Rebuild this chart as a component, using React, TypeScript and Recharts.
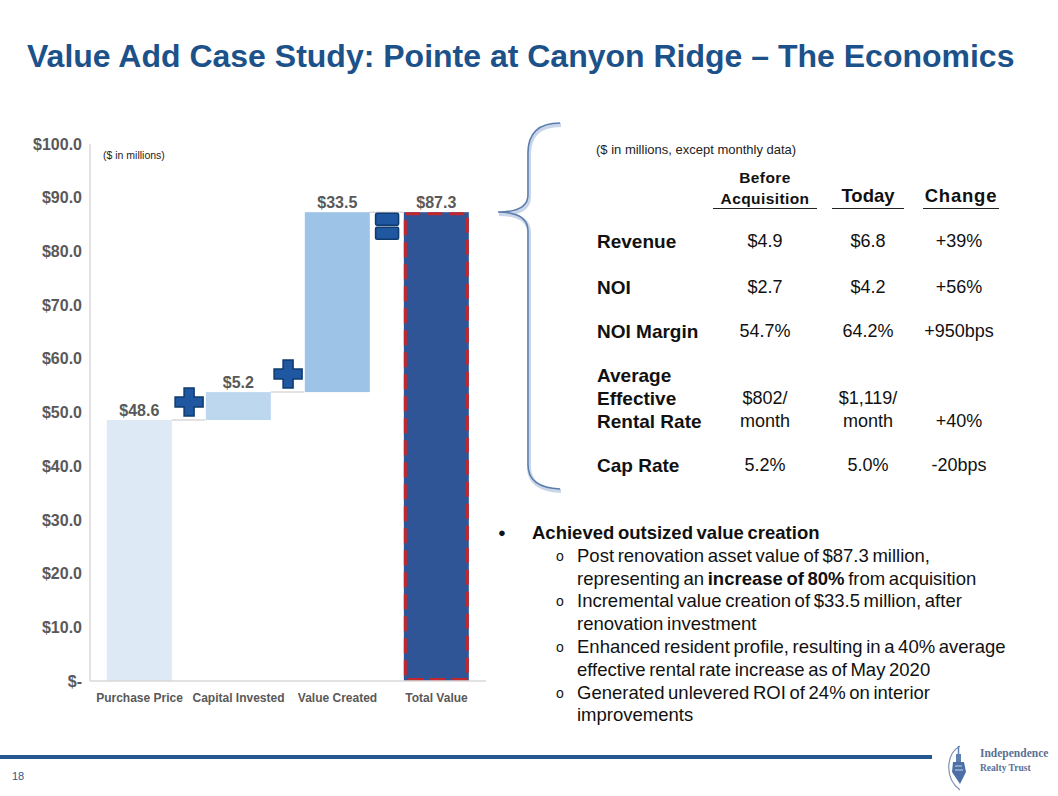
import React from "react";
import { BarChart, Bar, XAxis, YAxis, LabelList } from "recharts";

const categories = ["Purchase Price", "Capital Invested", "Value Created", "Total Value"];
const amounts = [48.6, 5.2, 33.5, 87.3];
const isTotal = [false, false, false, true];
const yTicks = [0, 10, 20, 30, 40, 50, 60, 70, 80, 90, 100];

const barColors = ["#dde9f5", "#bdd7ee", "#9dc3e6", "#2f5597"];
const joinIcons = [null, "plus", "plus", "equals"];

const metricLabels = [["Revenue"], ["NOI"], ["NOI Margin"], ["Average", "Effective", "Rental Rate"], ["Cap Rate"]];
const beforeValues = [["$4.9"], ["$2.7"], ["54.7%"], ["$802/", "month"], ["5.2%"]];
const todayValues = [["$6.8"], ["$4.2"], ["64.2%"], ["$1,119/", "month"], ["5.0%"]];
const changeValues = [["+39%"], ["+56%"], ["+950bps"], ["+40%"], ["-20bps"]];

const FONT = '"Liberation Sans", Arial, sans-serif';
const TITLE_BLUE = "#1c5289";
const GRAY = "#595959";
const CAT_GAP = 0.17;

// running totals for the waterfall
let running = 0;
const rows = categories.map((name, i) => {
  const base = isTotal[i] ? 0 : running;
  if (!isTotal[i]) running += amounts[i];
  return { name, base, amount: amounts[i] };
});

const fmtMoney = (v: number) => (v === 0 ? "$-" : `$${Number(v).toFixed(1)}`);

const PlusIcon = ({ cx, cy }: { cx: number; cy: number }) => {
  const a = 14; // half arm length
  const t = 5; // half thickness
  const d = `M${cx - t},${cy - a} H${cx + t} V${cy - t} H${cx + a} V${cy + t} H${cx + t} V${cy + a} H${cx - t} V${cy + t} H${cx - a} V${cy - t} H${cx - t} Z`;
  return <path d={d} fill="#1f57a0" stroke="#0e3a6e" strokeWidth={1.5} />;
};

const WaterfallBar = (props: any) => {
  const { x, y, width, height, payload } = props;
  const index = categories.indexOf(payload.name);
  const gap = (width * (2 * CAT_GAP)) / (1 - 2 * CAT_GAP);
  const bottom = y + height;
  const icon = joinIcons[index];
  const last = index === categories.length - 1;
  return (
    <g>
      <rect x={x} y={y} width={width} height={height} fill={barColors[index]} />
      {isTotal[index] && (
        <rect
          x={x + 1.5}
          y={y + 1.5}
          width={width - 3}
          height={height - 3}
          fill="none"
          stroke="#c0282d"
          strokeWidth={3}
          strokeDasharray="15 7"
        />
      )}
      {!last && (
        <line x1={x + width} x2={x + width + gap} y1={y} y2={y} stroke="#d9d9d9" strokeWidth={1.5} />
      )}
      {icon === "plus" && <PlusIcon cx={x - gap / 2} cy={bottom - 18} />}
      {icon === "equals" && (
        <g fill="#1f57a0" stroke="#0e3a6e" strokeWidth={1.5}>
          <rect x={x - gap / 2 - 11.5} y={y + 1} width={23} height={12} rx={1.5} />
          <rect x={x - gap / 2 - 11.5} y={y + 15} width={23} height={12} rx={1.5} />
        </g>
      )}
    </g>
  );
};

const Brace = () => (
  <svg width={80} height={380} style={{ position: "absolute", left: 490, top: 115 }}>
    <path
      d="M70,8 C48,8 38,18 38,38 L38,80 C38,92 28,97 8,97 C28,97 38,103 38,116 L38,350 C38,364 48,373 70,374"
      fill="none"
      stroke="#c9d5e8"
      strokeWidth={4}
      transform="translate(1,2)"
    />
    <path
      d="M70,8 C48,8 38,18 38,38 L38,80 C38,92 28,97 8,97 C28,97 38,103 38,116 L38,350 C38,364 48,373 70,374"
      fill="none"
      stroke="#5b7cad"
      strokeWidth={1.5}
    />
  </svg>
);

const rowTops = [230, 276, 320, 364, 454];
const colCenters = [765, 868, 959];

const Cell = ({ lines, left, top, count, bold, align }: any) => (
  <div
    style={{
      position: "absolute",
      left,
      top,
      width: align === "left" ? 140 : 120,
      height: count * 23,
      display: "flex",
      flexDirection: "column",
      justifyContent: "flex-end",
      textAlign: align === "left" ? "left" : "center",
      fontWeight: bold ? 700 : 400,
      fontSize: bold ? 19 : 18,
      lineHeight: "23px",
      color: "#111",
      whiteSpace: "nowrap",
    }}
  >
    {lines.map((l: string, i: number) => (
      <div key={i}>{l}</div>
    ))}
  </div>
);

const MetricsTable = () => (
  <>
    <div style={{ position: "absolute", left: 596, top: 142, fontSize: 13, color: "#222" }}>
      ($ in millions, except monthly data)
    </div>
    <div style={{ position: "absolute", left: 713, width: 104, top: 167, textAlign: "center", fontWeight: 700, fontSize: 15.5, lineHeight: "21px", letterSpacing: 0.4, color: "#111" }}>
      Before
      <br />
      Acquisition
    </div>
    <div style={{ position: "absolute", left: 713, width: 104, top: 208, borderTop: "1.5px solid #222" }} />
    <div style={{ position: "absolute", left: 832, width: 72, top: 185, textAlign: "center", fontWeight: 700, fontSize: 18.5, color: "#111" }}>
      Today
    </div>
    <div style={{ position: "absolute", left: 832, width: 72, top: 208, borderTop: "1.5px solid #222" }} />
    <div style={{ position: "absolute", left: 923, width: 76, top: 185, textAlign: "center", fontWeight: 700, fontSize: 18.5, letterSpacing: 0.8, color: "#111" }}>
      Change
    </div>
    <div style={{ position: "absolute", left: 923, width: 76, top: 208, borderTop: "1.5px solid #222" }} />
    {metricLabels.map((lbl, i) => {
      const count = lbl.length;
      return (
        <React.Fragment key={i}>
          <Cell lines={lbl} left={597} top={rowTops[i]} count={count} bold align="left" />
          <Cell lines={beforeValues[i]} left={colCenters[0] - 60} top={rowTops[i]} count={count} />
          <Cell lines={todayValues[i]} left={colCenters[1] - 60} top={rowTops[i]} count={count} />
          <Cell lines={changeValues[i]} left={colCenters[2] - 60} top={rowTops[i]} count={count} />
        </React.Fragment>
      );
    })}
  </>
);

const subBullets = [
  [<>Post renovation asset value of $87.3 million,</>, <>representing an <b>increase of 80%</b> from acquisition</>],
  [<>Incremental value creation of $33.5 million, after</>, <>renovation investment</>],
  [<>Enhanced resident profile, resulting in a 40% average</>, <>effective rental rate increase as of May 2020</>],
  [<>Generated unlevered ROI of 24% on interior</>, <>improvements</>],
];

const Bullets = () => (
  <div style={{ position: "absolute", left: 498, top: 522, fontSize: 18.5, color: "#111", lineHeight: "22.8px", whiteSpace: "nowrap", wordSpacing: -1.5 }}>
    <div style={{ display: "flex" }}>
      <span style={{ width: 34, fontSize: 13 }}>●</span>
      <b>Achieved outsized value creation</b>
    </div>
    {subBullets.map((lines, i) => (
      <div key={i} style={{ display: "flex", marginLeft: 58 }}>
        <span style={{ width: 21, fontSize: 14 }}>o</span>
        <div>
          {lines.map((l, j) => (
            <div key={j}>{l}</div>
          ))}
        </div>
      </div>
    ))}
  </div>
);

const Logo = () => (
  <svg width={120} height={52} style={{ position: "absolute", left: 938, top: 742 }}>
    <path d="M22,4 C8,12 6,36 22,48" fill="none" stroke="#7d93b5" strokeWidth={1.2} />
    <rect x={18} y={12} width={5} height={8} fill="#5e7fb0" />
    <path d="M20.5,4 L20.5,12" stroke="#5e7fb0" strokeWidth={1.5} />
    <path d="M15,20 H26 L28,30 L22,42 L14,30 Z" fill="#4b6fa6" />
    <path d="M17,24 H24 M17,28 H25" stroke="#c9d6ea" strokeWidth={1} />
    <text x={42} y={15} fontFamily='"Liberation Serif", "DejaVu Serif", serif' fontWeight={700} fontSize={11.5} fill="#5b6f92">
      Independence
    </text>
    <text x={42} y={29} fontFamily='"Liberation Serif", "DejaVu Serif", serif' fontWeight={700} fontSize={9.5} fill="#5b6f92">
      Realty Trust
    </text>
  </svg>
);

export default function App() {
  return (
    <div style={{ position: "absolute", left: 0, top: 0, width: 1058, height: 796, background: "#fff", fontFamily: FONT, overflow: "hidden" }}>
      <div style={{ position: "absolute", left: 27, top: 38, fontSize: 32, fontWeight: 700, color: TITLE_BLUE, whiteSpace: "nowrap" }}>
        Value Add Case Study: Pointe at Canyon Ridge – The Economics
      </div>

      <div style={{ position: "absolute", left: 0, top: 120 }}>
        <BarChart
          width={500}
          height={600}
          data={rows}
          margin={{ top: 24, right: 14, bottom: 0, left: 0 }}
          barCategoryGap={`${CAT_GAP * 100}%`}
        >
          <XAxis
            dataKey="name"
            axisLine={{ stroke: "#d9d9d9", strokeWidth: 1.5 }}
            tickLine={false}
            tickSize={0}
            tickMargin={12}
            height={39}
            interval={0}
            tick={{ fontSize: 12, fontWeight: 700, fill: GRAY, fontFamily: FONT }}
          />
          <YAxis
            domain={[0, 100]}
            ticks={yTicks}
            tickFormatter={fmtMoney}
            width={90}
            axisLine={{ stroke: "#d9d9d9", strokeWidth: 1.5 }}
            tickLine={false}
            tickSize={0}
            tickMargin={8}
            tick={{ fontSize: 16, fontWeight: 700, fill: GRAY, fontFamily: FONT }}
          />
          <Bar dataKey="base" stackId="w" fill="transparent" isAnimationActive={false} />
          <Bar dataKey="amount" stackId="w" shape={<WaterfallBar />} isAnimationActive={false}>
            <LabelList
              dataKey="amount"
              position="top"
              offset={4}
              formatter={(v: any) => fmtMoney(Number(v))}
              fill={GRAY}
              fontSize={16}
              fontWeight={700}
              fontFamily={FONT}
            />
          </Bar>
        </BarChart>
        <div style={{ position: "absolute", left: 103, top: 29, fontSize: 10.5, color: "#222" }}>($ in millions)</div>
      </div>

      <Brace />
      <MetricsTable />
      <Bullets />

      <div style={{ position: "absolute", left: 0, top: 755, width: 932, height: 4, background: "#24588f" }} />
      <div style={{ position: "absolute", left: 12, top: 770, fontSize: 11, color: "#2c5a8a" }}>18</div>
      <Logo />
    </div>
  );
}
